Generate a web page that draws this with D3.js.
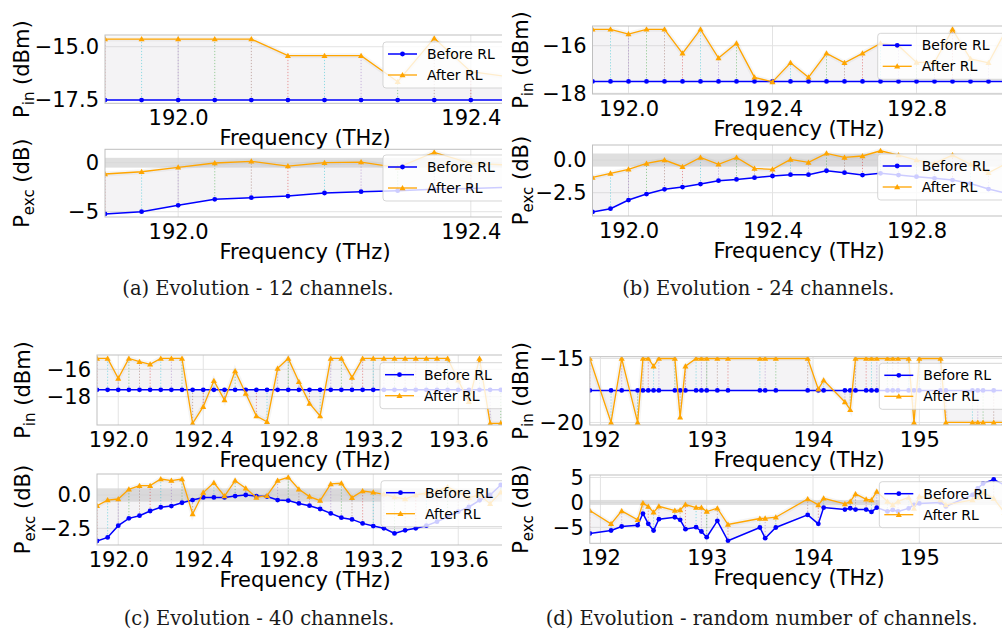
<!DOCTYPE html>
<html><head><meta charset="utf-8">
<script src="https://cdn.jsdelivr.net/npm/d3@7"></script>
<style>body{margin:0;background:#fff}svg{display:block}</style>
</head><body><svg id="c" width="1002" height="633"></svg>
<script>
// ---------------- DATA ----------------
const legendLabels = ["Before RL", "After RL"];
const captions = ["(a) Evolution - 12 channels.", "(b) Evolution - 24 channels.",
                  "(c) Evolution - 40 channels.", "(d) Evolution - random number of channels."];
const xLabel = "Frequency (THz)";

// (a) 12 channels
const freqA = [191.9,191.95,192.0,192.05,192.1,192.15,192.2,192.25,192.3,192.35,192.4,192.45];
const pinBeforeA = [-17.5,-17.5,-17.5,-17.5,-17.5,-17.5,-17.5,-17.5,-17.5,-17.5,-17.5,-17.5];
const pinAfterA = [-14.64,-14.64,-14.64,-14.64,-14.64,-15.42,-15.42,-15.42,-16.64,-14.6,-16.17,-16.4];
const pexcBeforeA = [-5.23,-5.0,-4.35,-3.74,-3.57,-3.4,-3.09,-2.96,-2.85,-2.72,-2.62,-2.5];
const pexcAfterA = [-1.15,-0.92,-0.47,-0.03,0.14,-0.34,0.0,0.07,-0.5,1.06,-0.06,-0.23];

// (b) 24 channels
const freqB = [191.9,191.95,192.0,192.05,192.1,192.15,192.2,192.25,192.3,192.35,192.4,192.45,
               192.5,192.55,192.6,192.65,192.7,192.75,192.8,192.85,192.9,192.95,193.0,193.05];
const pinBeforeB = [-17.5,-17.5,-17.5,-17.5,-17.5,-17.5,-17.5,-17.5,-17.5,-17.5,-17.5,-17.5,
                    -17.5,-17.5,-17.5,-17.5,-17.5,-17.5,-17.5,-17.5,-17.5,-17.5,-17.5,-17.5];
const pinAfterB = [-15.31,-15.31,-15.51,-15.31,-15.31,-16.32,-15.31,-16.52,-15.9,-17.33,-17.52,-16.72,
                   -17.33,-16.32,-16.72,-16.32,-15.9,-16.0,-16.7,-16.7,-15.31,-16.55,-16.72,-15.3];
const pexcBeforeB = [-3.97,-3.72,-3.06,-2.6,-2.24,-2.07,-1.84,-1.58,-1.48,-1.35,-1.22,-1.12,
                     -1.12,-0.82,-0.97,-1.15,-1.02,-1.15,-1.27,-1.4,-1.53,-1.79,-2.22,-2.55];
const pexcAfterB = [-1.33,-1.02,-0.71,-0.26,0.0,-0.51,0.2,-0.33,0.2,-0.64,-0.71,0.05,
                    -0.18,0.51,0.2,0.31,0.71,0.38,0.0,-0.26,0.38,-0.33,-0.97,-0.26];

// (c) 40 channels
const freqC = [191.9,191.95,192.0,192.05,192.1,192.15,192.2,192.25,192.3,192.35,
               192.4,192.45,192.5,192.55,192.6,192.65,192.7,192.75,192.8,192.85,
               192.9,192.95,193.0,193.05,193.1,193.15,193.2,193.25,193.3,193.35,
               193.4,193.45,193.5,193.55,193.6,193.65,193.7,193.75,193.8,193.85];
const pinBeforeC = [-17.5,-17.5,-17.5,-17.5,-17.5,-17.5,-17.5,-17.5,-17.5,-17.5,
                    -17.5,-17.5,-17.5,-17.5,-17.5,-17.5,-17.5,-17.5,-17.5,-17.5,
                    -17.5,-17.5,-17.5,-17.5,-17.5,-17.5,-17.5,-17.5,-17.5,-17.5,
                    -17.5,-17.5,-17.5,-17.5,-17.5,-17.5,-17.5,-17.5,-17.5,-17.5];
const pinAfterC = [-15.2,-15.2,-16.66,-15.2,-15.44,-15.63,-15.2,-15.2,-15.2,-19.95,
                   -18.73,-16.83,-18.25,-16.12,-17.76,-19.41,-19.83,-15.93,-15.2,-16.9,
                   -18.49,-19.41,-15.2,-15.2,-16.59,-15.2,-15.2,-15.2,-15.2,-15.2,
                   -15.2,-15.2,-15.2,-15.2,-16.8,-18.37,-15.2,-19.95,-19.95,-19.95];
const pexcBeforeC = [-3.45,-3.18,-2.3,-1.75,-1.55,-1.2,-0.92,-0.83,-0.58,-0.38,
                     -0.18,-0.18,-0.18,-0.08,0.0,-0.08,-0.12,-0.38,-0.42,-0.63,
                     -0.8,-1.05,-1.38,-1.7,-1.83,-2.13,-2.33,-2.5,-2.88,-2.65,
                     -2.5,-2.3,-2.0,-1.65,-1.25,-0.9,-0.4,0.0,0.75,1.4];
const pexcAfterC = [-0.8,-0.38,-0.3,0.43,0.7,0.7,1.2,1.08,1.2,-1.43,
                    0.18,0.92,-0.08,1.08,0.5,-0.18,-0.05,1.08,1.33,0.43,
                    -0.12,-0.42,0.83,0.88,-0.2,0.3,0.2,0.05,-0.15,-0.3,
                    0.0,0.15,0.3,0.6,0.2,-0.2,0.0,-0.65,0.2,0.45];

// (d) random number of channels
const freqD = [191.9,192.1,192.2,192.35,192.4,192.45,192.5,192.55,192.7,192.75,
               192.8,192.9,192.95,193.0,193.1,193.2,193.5,193.55,193.65,193.95,
               194.05,194.1,194.3,194.35,194.4,194.5,194.55,194.6,194.7,194.75,
               194.8,194.9,194.95,195.0,195.2,195.25,195.5,195.55,195.6,195.7,195.8];
const pinBeforeD = [-17.5,-17.5,-17.5,-17.5,-17.5,-17.5,-17.5,-17.5,-17.5,-17.5,
                    -17.5,-17.5,-17.5,-17.5,-17.5,-17.5,-17.5,-17.5,-17.5,-17.5,
                    -17.5,-17.5,-17.5,-17.5,-17.5,-17.5,-17.5,-17.5,-17.5,-17.5,
                    -17.5,-17.5,-17.5,-17.5,-17.5,-17.5,-17.5,-17.5,-17.5,-17.5,-17.5];
const pinAfterD = [-15,-20,-15,-20,-15,-15,-15.6,-15,-15,-19.6,
                   -15.6,-15,-15,-15,-15,-15,-15,-15,-15,-15,
                   -17.4,-16.7,-18.4,-19.0,-15,-15,-15,-15,-15,-15,
                   -15,-15,-20,-15,-15,-20,-20,-20,-20,-20,-20];
const pexcBeforeD = [-6.23,-5.63,-4.83,-4.57,-2.23,-4.3,-5.63,-3.37,-2.97,-3.5,
                     -5.37,-4.97,-5.83,-6.97,-3.7,-7.7,-5.03,-7.17,-5.03,-2.5,
                     -4.3,-1.03,-1.43,-1.17,-1.43,-1.43,-1.9,-1.03,-1.8,-1.5,
                     -1.8,-1.2,-0.5,-0.2,0.0,-0.8,1.5,2.8,3.8,4.6,3.5];
const pexcAfterD = [-1.63,-4.3,-1.7,-3.5,-0.1,-0.83,-1.97,-0.77,-1.63,-1.5,
                    -0.43,-1.03,-1.0,-1.83,-1.17,-4.43,-3.23,-3.2,-2.97,0.7,
                    -0.5,0.83,-0.3,0.17,1.7,0.63,0.5,2.17,0.2,-0.5,
                    0.2,1.0,-1.2,1.2,0.5,-0.5,0.5,1.0,2.0,0.8,-2.0];

// tick values
const xTicksA = [192.0, 192.4], xTicksB = [192.0, 192.4, 192.8];
const xTicksC = [192.0, 192.4, 192.8, 193.2, 193.6], xTicksD = [192, 193, 194, 195];
const yTicksPinA = [-17.5, -15.0], yTicksPexcA = [-5, 0];
const yTicksPinB = [-18, -16], yTicksPexcB = [-2.5, 0.0];
const yTicksPinC = [-18, -16], yTicksPexcC = [-2.5, 0.0];
const yTicksPinD = [-20, -15], yTicksPexcD = [-5, 0, 5];
const bandRange = [-0.5, 0.5];

// ---------------- DRAW ----------------
const svg = d3.select('#c');
const defs = svg.append('defs');
const FONT = "DejaVu Sans, sans-serif";
const BLUE = "#0000ff", ORANGE = "#ffa500";
const dotColors = ["#d62728", "#17becf", "#9467bd", "#2ca02c", "#8c564b"];

function panel(c) {
  const x = d3.scaleLinear().domain(c.xDomain).range([c.x0, c.x1]);
  const y = d3.scaleLinear().domain(c.yDomain).range([c.y1, c.y0]);
  const visRight = Math.min(c.x1, c.clipRight);
  defs.append('clipPath').attr('id', 'p' + c.id).append('rect')
    .attr('x', c.x0).attr('y', c.y0).attr('width', visRight - c.x0).attr('height', c.y1 - c.y0);
  defs.append('clipPath').attr('id', 'g' + c.id).append('rect')
    .attr('x', c.clipLeft).attr('y', 0).attr('width', c.clipRight - c.clipLeft).attr('height', 633);
  const g = svg.append('g').attr('clip-path', `url(#g${c.id})`);
  const plot = g.append('g').attr('clip-path', `url(#p${c.id})`);

  // grid
  plot.selectAll('.gx').data(c.xTicks).join('line')
    .attr('x1', d => x(d)).attr('x2', d => x(d)).attr('y1', c.y0).attr('y2', c.y1)
    .attr('stroke', '#e3e3e3').attr('stroke-width', 1);
  plot.selectAll('.gy').data(c.yTicks).join('line')
    .attr('x1', c.x0).attr('x2', c.x1).attr('y1', d => y(d)).attr('y2', d => y(d))
    .attr('stroke', '#e3e3e3').attr('stroke-width', 1);

  if (c.band) {
    plot.append('rect').attr('x', c.x0).attr('width', c.x1 - c.x0)
      .attr('y', y(c.band[1])).attr('height', y(c.band[0]) - y(c.band[1]))
      .attr('fill', '#d4d4d4').attr('opacity', 0.75);
  }

  const pts = c.freq.map((f, i) => ({f, b: c.before[i], a: c.after[i]}));
  // faint evolution area
  plot.append('path').datum(pts)
    .attr('d', d3.area().x(d => x(d.f)).y0(d => y(d.b)).y1(d => y(d.a)))
    .attr('fill', '#bdb6c2').attr('opacity', 0.16);
  // faint gray shadow of intermediate lines
  plot.append('path').datum(pts)
    .attr('d', d3.line().x(d => x(d.f)).y(d => y(d.a)))
    .attr('fill', 'none').attr('stroke', '#999').attr('stroke-width', 5).attr('opacity', 0.1);
  // dotted verticals
  plot.selectAll('.dv').data(pts).join('line')
    .attr('x1', d => x(d.f)).attr('x2', d => x(d.f))
    .attr('y1', d => y(d.b)).attr('y2', d => y(d.a))
    .attr('stroke', (d, i) => dotColors[i % dotColors.length])
    .attr('stroke-width', 1).attr('stroke-dasharray', '1.2,1.8').attr('opacity', 0.45);

  // before line
  plot.append('path').datum(pts)
    .attr('d', d3.line().x(d => x(d.f)).y(d => y(d.b)))
    .attr('fill', 'none').attr('stroke', BLUE).attr('stroke-width', 1.5);
  plot.selectAll('.bm').data(pts).join('circle')
    .attr('cx', d => x(d.f)).attr('cy', d => y(d.b)).attr('r', 2.4).attr('fill', BLUE);
  // after line
  plot.append('path').datum(pts)
    .attr('d', d3.line().x(d => x(d.f)).y(d => y(d.a)))
    .attr('fill', 'none').attr('stroke', ORANGE).attr('stroke-width', 1.3);
  const tri = d3.symbol().type(d3.symbolTriangle).size(16);
  plot.selectAll('.am').data(pts).join('path')
    .attr('d', tri).attr('transform', d => `translate(${x(d.f)},${y(d.a) + 0.5})`).attr('fill', ORANGE);

  // frame
  g.append('rect').attr('x', c.x0).attr('y', c.y0).attr('width', c.x1 - c.x0).attr('height', c.y1 - c.y0)
    .attr('fill', 'none').attr('stroke', '#bfbfbf').attr('stroke-width', 1);

  // axes
  const ax = g.append('g').attr('transform', `translate(0,${c.y1})`)
    .call(d3.axisBottom(x).tickValues(c.xTicks).tickFormat(c.xFmt).tickSize(0).tickPadding(6.6));
  const ay = g.append('g').attr('transform', `translate(${c.x0},0)`)
    .call(d3.axisLeft(y).tickValues(c.yTicks).tickFormat(c.yFmt).tickSize(0).tickPadding(6));
  [ax, ay].forEach(a => {
    a.select('.domain').remove();
    a.selectAll('text').attr('font-family', FONT).attr('font-size', 21).attr('fill', '#000');
  });

  // x label
  g.append('text').attr('x', (c.labelCx)).attr('y', c.y1 + 42)
    .attr('text-anchor', 'middle').attr('font-family', FONT).attr('font-size', 21).text(xLabel);

  // y label
  const yl = g.append('text')
    .attr('transform', `translate(${c.ylx},${(c.y0 + c.y1) / 2}) rotate(-90)`)
    .attr('text-anchor', 'middle').attr('font-family', FONT).attr('font-size', 21);
  yl.append('tspan').text('P');
  yl.append('tspan').attr('font-size', 15).attr('dy', 5).text(c.sub);
  yl.append('tspan').attr('dy', -5).text(' ' + c.unit);

  // legend
  const L = c.legend;
  const lg = g.append('g');
  lg.append('rect').attr('x', L.x).attr('y', L.y).attr('width', 150).attr('height', 46).attr('rx', 3)
    .attr('fill', '#fff').attr('fill-opacity', 0.8).attr('stroke', '#cccccc').attr('stroke-opacity', 0.8);
  [[BLUE, 'c'], [ORANGE, 't']].forEach((s, i) => {
    const yy = L.y + 12 + i * 21;
    lg.append('line').attr('x1', L.x + 5).attr('x2', L.x + 34).attr('y1', yy).attr('y2', yy)
      .attr('stroke', s[0]).attr('stroke-width', i === 0 ? 1.5 : 1.3);
    if (s[1] === 'c') lg.append('circle').attr('cx', L.x + 19.5).attr('cy', yy).attr('r', 2.4).attr('fill', s[0]);
    else lg.append('path').attr('d', tri).attr('transform', `translate(${L.x + 19.5},${yy + 0.5})`).attr('fill', s[0]);
    lg.append('text').attr('x', L.x + 44).attr('y', yy + 5).attr('font-family', FONT).attr('font-size', 14)
      .attr('fill', '#000').text(legendLabels[i]);
  });
}

const f1 = d3.format('.1f'), fd = d3.format('d');
const cols = {
  A: {x0: 105, x1: 544, xDomain: [191.9, 192.5], xTicks: xTicksA, xFmt: f1, clipLeft: 0, clipRight: 502, labelCx: 305, ylx: 28.5, freq: freqA},
  B: {x0: 592.5, x1: 1024.5, xDomain: [191.9, 193.1], xTicks: xTicksB, xFmt: f1, clipLeft: 502, clipRight: 1002, labelCx: 799, ylx: 528.3, freq: freqB},
  C: {x0: 97, x1: 522, xDomain: [191.9, 193.9], xTicks: xTicksC, xFmt: f1, clipLeft: 0, clipRight: 502, labelCx: 305, ylx: 30, freq: freqC},
  D: {x0: 589.8, x1: 1025.6, xDomain: [191.9, 196.0], xTicks: xTicksD, xFmt: fd, clipLeft: 502, clipRight: 1002, labelCx: 799, ylx: 528, freq: freqD}
};

panel(Object.assign({}, cols.A, {id: 'aPin', y0: 35, y1: 103.3, yDomain: [-17.65, -14.45], yTicks: yTicksPinA, yFmt: f1,
  before: pinBeforeA, after: pinAfterA, sub: 'in', unit: '(dBm)', legend: {x: 383, y: 42}}));
panel(Object.assign({}, cols.A, {id: 'aPexc', y0: 149.3, y1: 217, yDomain: [-5.54, 1.37], yTicks: yTicksPexcA, yFmt: fd,
  before: pexcBeforeA, after: pexcAfterA, band: bandRange, sub: 'exc', unit: '(dB)', legend: {x: 383, y: 155}}));
panel(Object.assign({}, cols.B, {id: 'bPin', y0: 26, y1: 94, yDomain: [-18.03, -15.17], yTicks: yTicksPinB, yFmt: fd,
  before: pinBeforeB, after: pinAfterB, sub: 'in', unit: '(dBm)', legend: {x: 877.7, y: 33.3}}));
panel(Object.assign({}, cols.B, {id: 'bPexc', y0: 145, y1: 216, yDomain: [-4.28, 1.15], yTicks: yTicksPexcB, yFmt: f1,
  before: pexcBeforeB, after: pexcAfterB, band: bandRange, sub: 'exc', unit: '(dB)', legend: {x: 877.7, y: 154}}));
panel(Object.assign({}, cols.C, {id: 'cPin', y0: 355, y1: 425, yDomain: [-20.07, -14.95], yTicks: yTicksPinC, yFmt: fd,
  before: pinBeforeC, after: pinAfterC, sub: 'in', unit: '(dBm)', legend: {x: 380, y: 362.7}}));
panel(Object.assign({}, cols.C, {id: 'cPexc', y0: 474, y1: 545, yDomain: [-3.75, 1.575], yTicks: yTicksPexcC, yFmt: f1,
  before: pexcBeforeC, after: pexcAfterC, band: bandRange, sub: 'exc', unit: '(dB)', legend: {x: 381, y: 480.7}}));
panel(Object.assign({}, cols.D, {id: 'dPin', y0: 356.7, y1: 425, yDomain: [-20.2, -14.86], yTicks: yTicksPinD, yFmt: fd,
  before: pinBeforeD, after: pinAfterD, sub: 'in', unit: '(dBm)', legend: {x: 879.3, y: 363.3}}));
panel(Object.assign({}, cols.D, {id: 'dPexc', y0: 475, y1: 543.3, yDomain: [-8.2, 5.5], yTicks: yTicksPexcD, yFmt: fd,
  before: pexcBeforeD, after: pexcAfterD, band: bandRange, sub: 'exc', unit: '(dB)', legend: {x: 879.3, y: 481.7}}));

// captions
const capPos = [[258, 294.5], [758.3, 294.5], [259, 624.5], [761.7, 624.5]];
captions.forEach((t, i) => {
  svg.append('text').attr('x', capPos[i][0]).attr('y', capPos[i][1]).attr('text-anchor', 'middle')
    .attr('font-family', 'DejaVu Serif, serif').attr('font-size', 19.5).attr('fill', '#1a1a1a').text(t);
});
</script>
</body></html>
